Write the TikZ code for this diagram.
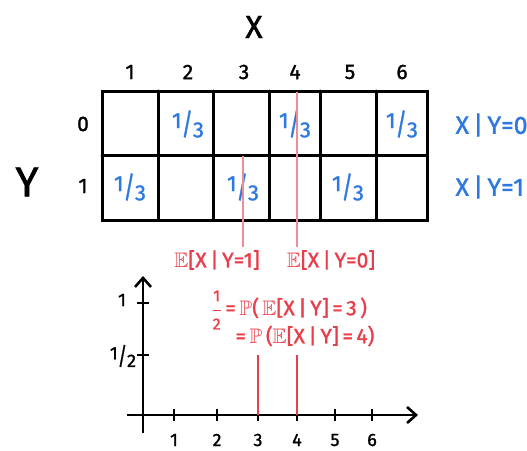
\documentclass[tikz,border=0pt]{standalone}
\usepackage{amssymb,amsmath}
\usepackage{fontspec}
\setmainfont{Fira Sans}[FakeBold=1.3]
\usetikzlibrary{arrows.meta}
\definecolor{hblue}{RGB}{45,120,225}
\definecolor{hred}{RGB}{232,62,74}
\definecolor{hpink}{RGB}{240,140,150}
\newcommand{\third}{\raisebox{0.35ex}{1}\raisebox{-0.2ex}{\scalebox{1}[1.35]{/}}\raisebox{-0.45ex}{3}}
\newcommand{\halfv}{\raisebox{0.35ex}{1}\raisebox{-0.2ex}{\scalebox{1}[1.35]{/}}\raisebox{-0.45ex}{2}}
\newcommand{\redhalf}{$\dfrac{\text{\fontsize{16}{16}\selectfont 1}}{\text{\fontsize{16}{16}\selectfont 2}}$}
\tikzset{
  gridline/.style={line width=3pt,black,line cap=round},
  colnum/.style={font=\fontsize{21}{21}\selectfont},
  cellval/.style={hblue,font=\fontsize{22}{22}\selectfont},
  condlab/.style={hblue,font=\fontsize{25}{25}\selectfont,anchor=west},
  redlab/.style={hred,font=\fontsize{21}{21}\selectfont},
  pinkline/.style={hpink,line width=2pt},
  axis/.style={line width=2.6pt,black,-{Straight Barb[length=9pt,width=16pt,line width=2.6pt]}},
  tick/.style={line width=2pt,black},
  ticklab/.style={font=\fontsize{18}{18}\selectfont},
  stem/.style={hred,line width=2.8pt}
}
\begin{document}
\begin{tikzpicture}[x=1pt,y=-1pt]
\useasboundingbox (0,0) rectangle (527,450);
% titles
\node[font=\fontsize{32}{32}\selectfont] (tX) at (254,27) {X};
\node[font=\fontsize{42}{42}\selectfont] (tY) at (27,182) {Y};
% column labels
\foreach \i/\x in {1/130,2/188,3/244,4/295,5/350,6/402}{
  \node[colnum] (c\i) at (\x,72) {\i};
}
\node[colnum] (r0) at (83,124) {0};
\node[colnum] (r1) at (83,186) {1};
% grid
\draw[gridline] (102,91) rectangle (427,220);
\draw[gridline] (102,155) -- (427,155);
\foreach \x in {158,213,269,320,376}{
  \draw[gridline] (\x,91) -- (\x,220);
}
% cell values
\node[cellval] (v02) at (188,124) {\third};
\node[cellval] (v04) at (295,124) {\third};
\node[cellval] (v06) at (402,124) {\third};
\node[cellval] (v11) at (130,187) {\third};
\node[cellval] (v13) at (243,187) {\third};
\node[cellval] (v15) at (348,187) {\third};
% conditional labels
\node[condlab] (cY0) at (452,125) {X\,|\,Y=0};
\node[condlab] (cY1) at (452,187) {X\,|\,Y=1};
% red labels
\node[redlab] (e1) at (217,260) {$\mathbb{E}$[X\,|\,Y=1]};
\node[redlab] (e0) at (331,260) {$\mathbb{E}$[X\,|\,Y=0]};
\coordinate (p1) at (243,156);
\coordinate (p0) at (297,92);
\draw[pinkline] (p1) -- (p1 |- e1.north);
\draw[pinkline] (p0) -- (p0 |- e0.north);
% axes
\coordinate (O) at (143,415);
\coordinate (yb) at (143,433);
\coordinate (yt) at (143,276);
\coordinate (xl) at (127,415);
\coordinate (xr) at (418,415);
\draw[axis] (yb) -- (yt);
\draw[axis] (xl) -- (xr);
\foreach \i/\x in {1/174,2/217,3/258,4/297,5/335,6/372}{
  \draw[tick] (\x,409) -- (\x,421);
  \node[ticklab] (t\i) at (\x,440) {\i};
}
\draw[tick] (137,303) -- (149,303);
\draw[tick] (137,355) -- (149,355);
\node[ticklab] (y1) at (122,300) {1};
\node[ticklab] (yh) at (123,356) {\halfv};
% probability text
\node[redlab,anchor=west] (pr1) at (208,310) {\redhalf\,=\,$\mathbb{P}$(\,$\mathbb{E}$[X\,|\,Y]\,=\,3\,)};
\node[redlab,anchor=west] (pr2) at (232,336) {=\,$\mathbb{P}$\,($\mathbb{E}$[X\,|\,Y]\,=\,4)};
% stems
\draw[stem] (t3 |- 0,355) -- (t3 |- O);
\draw[stem] (t4 |- 0,355) -- (t4 |- O);
\end{tikzpicture}
\end{document}
